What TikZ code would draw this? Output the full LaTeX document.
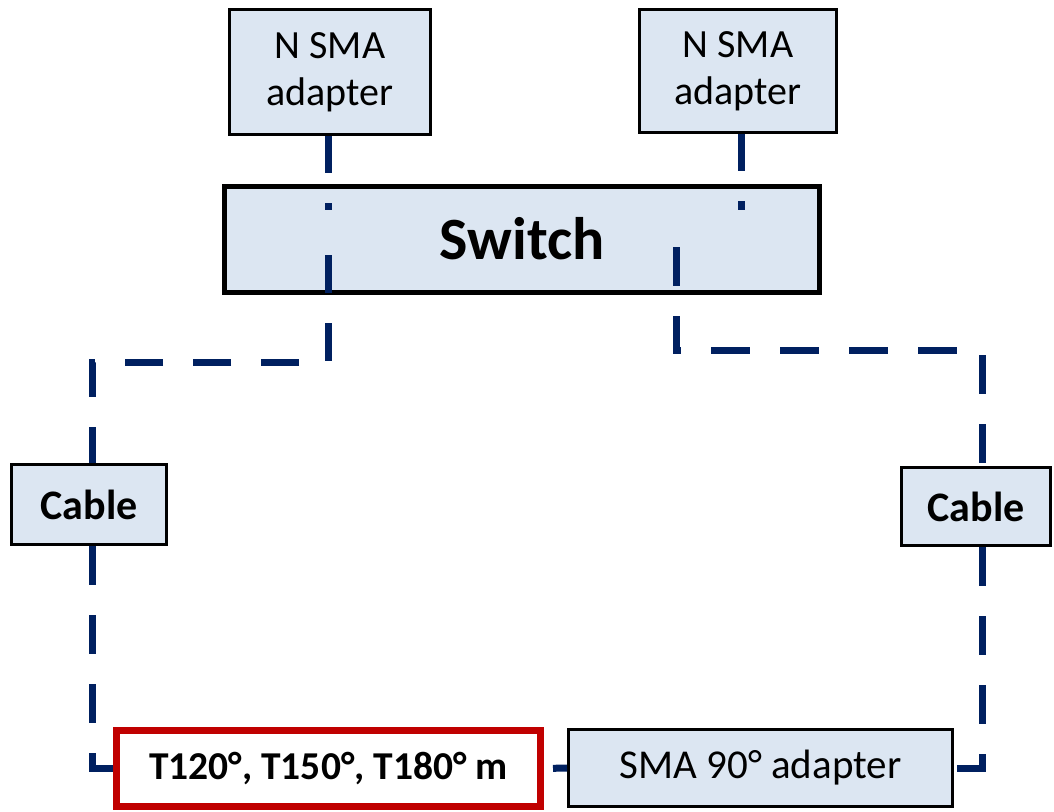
\documentclass[tikz,border=0pt]{standalone}
\usepackage{fontspec}
\setmainfont{Carlito}
\definecolor{boxfill}{RGB}{220,230,242}
\definecolor{navy}{RGB}{0,32,96}
\definecolor{redline}{RGB}{192,0,0}
\begin{document}
\begin{tikzpicture}[x=1pt,y=-1pt,
  box/.style={draw=black,line width=3pt,fill=boxfill,inner sep=0pt,align=center,
    font=\fontsize{40}{47}\selectfont},
  conn/.style={draw=navy,line width=7pt,dash pattern=on 38pt off 30pt}]
\useasboundingbox (0,0) rectangle (1054,811);
% nodes
\node[box,minimum width=201pt,minimum height=125pt] (nl) at (330,72) {N SMA\\adapter};
\node[box,minimum width=197pt,minimum height=123pt] (nr) at (738,71) {N SMA\\adapter};
\node[box,line width=5pt,minimum width=595pt,minimum height=106pt,
  font=\fontsize{60}{70}\selectfont\bfseries] (sw) at (522,239) {Switch};
\node[box,minimum width=155pt,minimum height=80pt,font=\fontsize{42}{48}\selectfont\bfseries] (cl) at (89,504.5) {Cable};
\node[box,minimum width=149pt,minimum height=78pt,font=\fontsize{42}{48}\selectfont\bfseries] (cr) at (976,506.5) {Cable};
\node[box,draw=redline,fill=white,line width=7pt,minimum width=424pt,minimum height=76pt,
  font=\fontsize{39.5}{46}\selectfont\bfseries] (red) at (328.5,768.5) {T120°, T150°, T180° m};
\node[box,minimum width=384pt,minimum height=77pt,font=\fontsize{41}{48}\selectfont] (sma) at (760.5,768) {SMA 90° adapter};
% helper coordinates
\coordinate (pl) at (328,210);
\coordinate (pr) at (741,210);
\coordinate (ql) at (328,255);
\coordinate (qr) at (676,247);
\coordinate (lx) at (92,0);
\coordinate (rx) at (982,0);
% connectors
\draw[conn,dash pattern=on 37pt off 30pt] (nl.south -| pl) -- (pl);
\draw[conn,dash pattern=on 37pt off 30pt] (nr.south -| pr) -- (pr);
\draw[conn] (ql) -- (328,362) -- (92,362) -- (cl.north -| lx);
\draw[conn,dash pattern=on 39pt off 30pt] (qr) -- (676,350) -- (982,350) -- (cr.north -| rx);
\draw[conn,dash pattern=on 39pt off 30pt] (cl.south -| lx) |- (red.west);
\draw[conn,dash pattern=on 39pt off 30pt] (cr.south -| rx) |- (sma.east);
\draw[conn,dash pattern=on 39pt off 30pt,dash phase=60pt] (red.east) -- (sma.west);
\end{tikzpicture}
\end{document}
